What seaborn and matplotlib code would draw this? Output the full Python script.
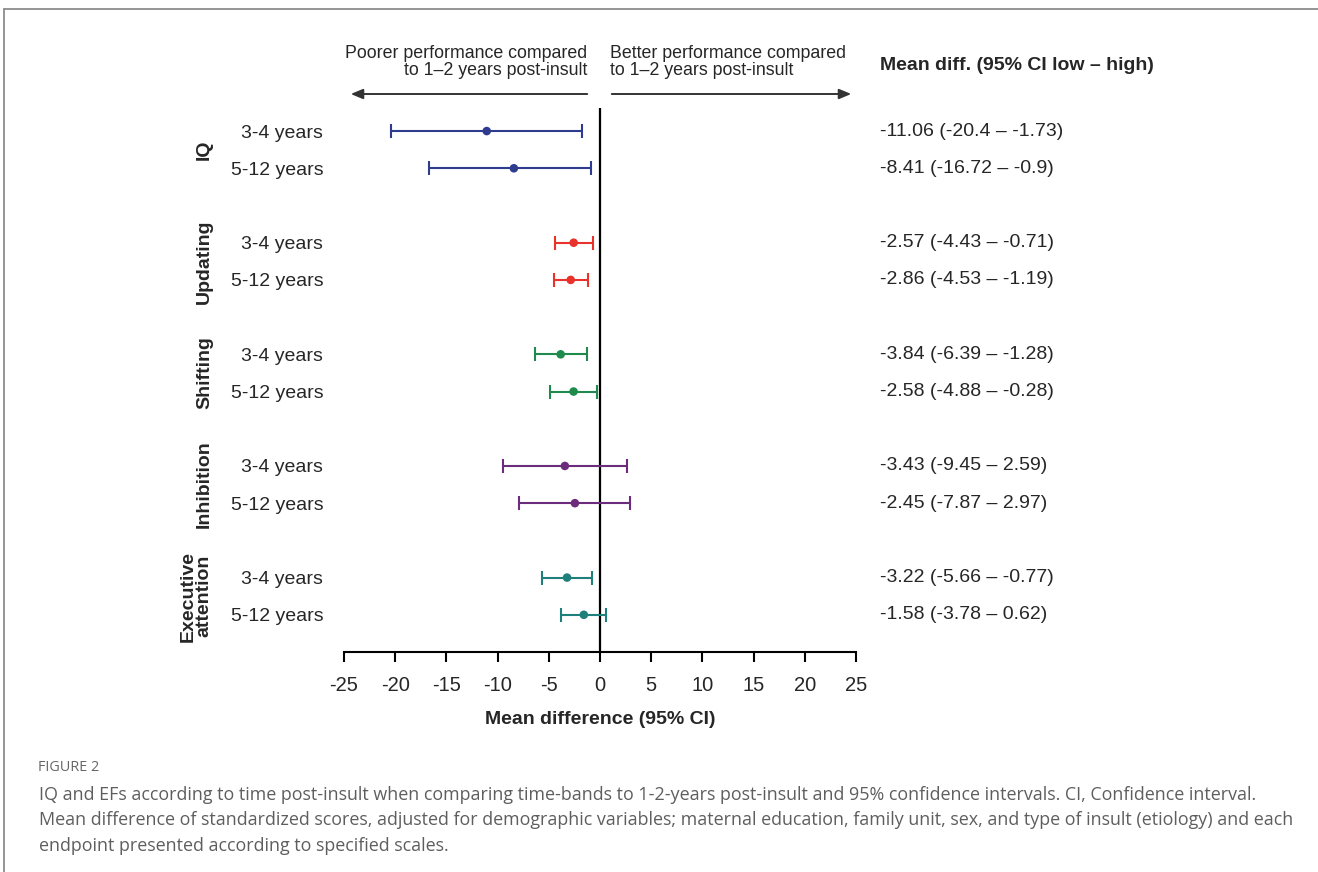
import matplotlib
matplotlib.use("Agg")
import matplotlib.pyplot as plt
import seaborn as sns
import pandas as pd
import numpy as np
from matplotlib.lines import Line2D

# ---- data ----
groups = ["IQ", "Updating", "Shifting", "Inhibition", "Executive\nattention"]
bands = ["3-4 years", "5-12 years"]
mean_diff = [-11.06, -8.41, -2.57, -2.86, -3.84, -2.58, -3.43, -2.45, -3.22, -1.58]
ci_low = [-20.4, -16.72, -4.43, -4.53, -6.39, -4.88, -9.45, -7.87, -5.66, -3.78]
ci_high = [-1.73, -0.9, -0.71, -1.19, -1.28, -0.28, 2.59, 2.97, -0.77, 0.62]
group_colors = ["#2E3B8F", "#E8322B", "#1E8B4C", "#6B2D7B", "#1F7F7A"]
x_ticks = [-25, -20, -15, -10, -5, 0, 5, 10, 15, 20, 25]

rows = []
for gi, g in enumerate(groups):
    for bi, b in enumerate(bands):
        k = gi * 2 + bi
        rows.append(dict(group=g, band=b, pos=gi * 3 + bi,
                         mean=mean_diff[k], low=ci_low[k], high=ci_high[k]))
df = pd.DataFrame(rows)

sns.set_theme(style="white")
plt.rcParams["font.family"] = ["Liberation Sans", "DejaVu Sans"]

W, H = 1318, 872
fig = plt.figure(figsize=(W / 100, H / 100), dpi=100)
ax = fig.add_axes([344 / W, 1 - 652 / H, (856 - 344) / W, (652 - 108) / H])

palette = dict(zip(groups, group_colors))
for _, r in df.iterrows():
    ax.errorbar(r["mean"], r["pos"], xerr=[[r["mean"] - r["low"]], [r["high"] - r["mean"]]],
                fmt="none", ecolor=palette[r["group"]], elinewidth=1.5,
                capsize=4.8, capthick=1.5, zorder=3)
sns.scatterplot(data=df, x="mean", y="pos", hue="group", palette=palette,
                s=38, edgecolor="none", legend=False, ax=ax, zorder=4)

ax.axvline(0, color="black", lw=1.6, zorder=2)
ax.set_xlim(-25, 25)
ax.set_ylim(14.0, -0.62)
ax.set_xticks(x_ticks)
ax.set_xticklabels([str(t) for t in x_ticks], fontsize=14.5)
ax.set_yticks(df["pos"])
ax.set_yticklabels(df["band"], fontsize=14)
ax.tick_params(axis="y", left=False, length=0, pad=15)
ax.tick_params(axis="x", bottom=True, direction="out", length=7.5, width=1.5,
               color="black", pad=10)
for s in ["top", "right", "left"]:
    ax.spines[s].set_visible(False)
ax.spines["bottom"].set_linewidth(1.5)
ax.spines["bottom"].set_color("black")
ax.set_xlabel("Mean difference (95% CI)", fontsize=14, fontweight="bold", labelpad=11)
ax.set_ylabel("")

# group labels
for gi, g in enumerate(groups):
    xg = -39.45 if "\n" in g else -38.6
    ax.text(xg, gi * 3 + 0.5, g, rotation=90, ha="center", va="center",
            fontsize=14, fontweight="bold", clip_on=False, linespacing=0.9)

# right column
for _, r in df.iterrows():
    ax.text(27.34, r["pos"], f"{r['mean']} ({r['low']} \u2013 {r['high']})",
            ha="left", va="center", fontsize=14, clip_on=False)
fig.text(880 / W, 1 - 65 / H, "Mean diff. (95% CI low \u2013 high)", ha="left", va="center",
         fontsize=14, fontweight="bold")

# direction headers and arrows
fig.text(587 / W, 1 - 62 / H, "Poorer performance compared\nto 1\u20132 years post-insult",
         ha="right", va="center", multialignment="right", fontsize=12.8, linespacing=1.0)
fig.text(610 / W, 1 - 62 / H, "Better performance compared\nto 1\u20132 years post-insult",
         ha="left", va="center", multialignment="left", fontsize=12.8, linespacing=1.0)
ay = 1 - 94 / H
arrow_kw = dict(arrowstyle="-|>,head_length=0.6,head_width=0.25", color="#333333", lw=1.4)
ax.annotate("", xy=(348 / W, ay), xytext=(590 / W, ay), xycoords="figure fraction",
            textcoords="figure fraction", arrowprops=arrow_kw)
ax.annotate("", xy=(854 / W, ay), xytext=(609 / W, ay), xycoords="figure fraction",
            textcoords="figure fraction", arrowprops=arrow_kw)

# caption
cap_font = ["Open Sans", "DejaVu Sans"]
fig.text(38 / W, 1 - 767 / H, "FIGURE 2", ha="left", va="center", fontsize=10.4,
         color="#666666", family=cap_font)
caption = ["IQ and EFs according to time post-insult when comparing time-bands to 1-2-years post-insult and 95% confidence intervals. CI, Confidence interval.",
           "Mean difference of standardized scores, adjusted for demographic variables; maternal education, family unit, sex, and type of insult (etiology) and each",
           "endpoint presented according to specified scales."]
cap_texts = [fig.text(39 / W, 1 - (795 + 25.3 * i) / H, line, ha="left", va="center",
                      fontsize=12, color="#5E5E5E", family=cap_font)
             for i, line in enumerate(caption)]
renderer = fig.canvas.get_renderer()
w0 = cap_texts[0].get_window_extent(renderer).width
w1 = cap_texts[1].get_window_extent(renderer).width
fs = 12 * min((1275 - 39) / w0, (1288 - 39) / w1)
for t in cap_texts:
    t.set_fontsize(fs)

# frame
fig.add_artist(Line2D([3.5 / W, 1], [1 - 9.5 / H, 1 - 9.5 / H], color="#8C8C8C", lw=1.3))
fig.add_artist(Line2D([3.5 / W, 3.5 / W], [1 - 9.5 / H, 0], color="#8C8C8C", lw=1.3))

fig.savefig("out.png", dpi=100, facecolor="white")
